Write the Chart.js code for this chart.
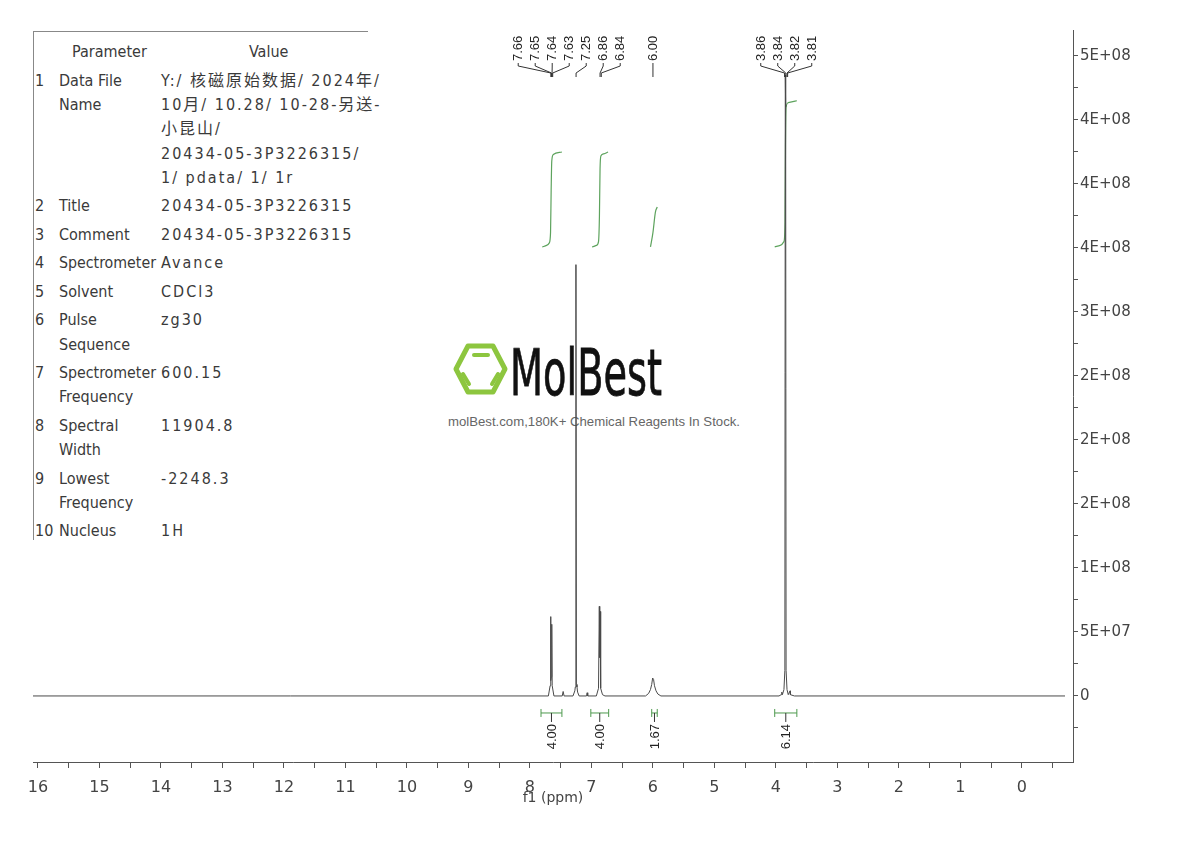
<!DOCTYPE html>
<html>
<head>
<meta charset="utf-8">
<script src="https://cdn.jsdelivr.net/npm/chart.js@4.4.1/dist/chart.umd.min.js"></script>
<style>
  body { margin: 0; background: #fff; }
  #wrap { position: relative; width: 1190px; height: 842px; overflow: hidden; }
  #chart { position: absolute; left: 0; top: 0; z-index: 2; }
  #params {
    position: absolute; left: 33px; top: 31px; width: 335px; height: 509px;
    border-left: 1px solid #888; border-top: 1px solid #888; z-index: 1;
    font-family: 'DejaVu Sans', 'Noto Sans CJK SC', sans-serif; font-stretch: condensed;
    font-size: 16px; color: #3a3a3a; line-height: 24.3px; padding-top: 4px;
    box-sizing: border-box;
  }
  .row { display: flex; padding-top: 4.2px; white-space: nowrap; }
  .num { width: 25px; padding-left: 1px; flex-shrink: 0; box-sizing: border-box; }
  .name { width: 102px; flex-shrink: 0; }
  .name span { display: inline-block; transform-origin: left center; }
  .val { letter-spacing: 2px; flex-shrink: 0; }
  .head .name { padding-left: 13px; box-sizing: border-box; }
  .head .val { padding-left: 88px; letter-spacing: 0; }
  #logo { position: absolute; left: 0; top: 0; z-index: 1; }
</style>
</head>
<body>
<div id="wrap">
  <div id="params"></div>
  <svg id="logo" width="1190" height="842">
    <polygon points="456,369 468,346 493,346 505,369 493,392 468,392" fill="none" stroke="#8dc63f" stroke-width="5" stroke-linejoin="round"/>
    <line x1="474" y1="355" x2="488" y2="355" stroke="#8dc63f" stroke-width="4" stroke-linecap="round"/>
    <line x1="463" y1="374" x2="469" y2="384" stroke="#8dc63f" stroke-width="4" stroke-linecap="round"/>
    <line x1="498" y1="374" x2="492" y2="384" stroke="#8dc63f" stroke-width="4" stroke-linecap="round"/>
    <text x="510" y="395" font-family="DejaVu Sans, sans-serif" font-size="64" fill="#111" stroke="#111" stroke-width="0.8" textLength="152" lengthAdjust="spacingAndGlyphs">MolBest</text>
    <text x="448" y="426" font-family="Liberation Sans, Arial, sans-serif" font-size="13" fill="#666" textLength="292" lengthAdjust="spacingAndGlyphs">molBest.com,180K+ Chemical Reagents In Stock.</text>
  </svg>
  <canvas id="chart" width="1190" height="842"></canvas>
</div>
<script>
// acquisition parameters table
const paramNumbers = ['1', '2', '3', '4', '5', '6', '7', '8', '9', '10'];
const paramNames = [['Data File', 'Name'], ['Title'], ['Comment'], ['Spectrometer'], ['Solvent'],
  ['Pulse', 'Sequence'], ['Spectrometer', 'Frequency'], ['Spectral', 'Width'], ['Lowest', 'Frequency'], ['Nucleus']];
const paramValues = [
  ['Y:/ 核磁原始数据/ 2024年/', '10月/ 10.28/ 10-28-另送-', '小昆山/', '20434-05-3P3226315/', '1/ pdata/ 1/ 1r'],
  ['20434-05-3P3226315'], ['20434-05-3P3226315'], ['Avance'], ['CDCl3'], ['zg30'],
  ['600.15'], ['11904.8'], ['-2248.3'], ['1H']
];

// spectrum trace (ppm, intensity)
const spectrumPpm = [16.08, 7.70, 7.672, 7.665, 7.658, 7.652, 7.645, 7.638, 7.61,
  7.475, 7.46, 7.445, 7.30, 7.27, 7.262, 7.252, 7.245, 7.235, 7.225, 7.20, 7.08, 7.07, 7.06,
  6.92, 6.885, 6.872, 6.865, 6.858, 6.85, 6.82, 6.78,
  6.12, 6.07, 6.04, 6.02, 6.005, 5.99, 5.975, 5.95, 5.92, 5.87,
  3.95, 3.915, 3.905, 3.895, 3.87, 3.855, 3.848, 3.842, 3.835, 3.82, 3.80, 3.77, 3.765, 3.70, -0.7];
const spectrumIntensity = [0, 0, 0.8e7, 6.2e7, 1.2e7, 1.5e7, 5.6e7, 0.8e7, 0,
  0, 0.35e7, 0, 0, 0.4e7, 0.7e7, 33.7e7, 0.9e7, 0.7e7, 0.3e7, 0, 0, 0.25e7, 0,
  0, 0.6e7, 7.0e7, 3.0e7, 6.6e7, 0.6e7, 0.1e7, 0,
  0, 0.2e7, 0.5e7, 0.9e7, 1.4e7, 1.3e7, 0.8e7, 0.4e7, 0.15e7, 0,
  0, 0.1e7, 0.3e7, 0.1e7, 0.5e7, 2.0e7, 48.5e7, 46e7, 2.0e7, 0.5e7, 0.1e7, 0.4e7, 0.1e7, 0, 0];

// peak picking
const peakShifts = [7.66, 7.65, 7.64, 7.63, 7.25, 6.86, 6.84, 6.00, 3.86, 3.84, 3.82, 3.81];

// integrals
const integralFrom = [7.82, 7.01, 6.02, 4.02];
const integralTo = [7.48, 6.72, 5.93, 3.66];
const integralLabels = ['4.00', '4.00', '1.67', '6.14'];
const integralCurvePpm = [
  [7.80, 7.73, 7.685, 7.665, 7.655, 7.645, 7.62, 7.48],
  [6.99, 6.92, 6.885, 6.87, 6.86, 6.845, 6.80, 6.73],
  [6.04, 6.0, 5.96, 5.93],
  [4.02, 3.93, 3.87, 3.852, 3.845, 3.835, 3.80, 3.66]
];
const integralCurveValue = [
  [3.508e8, 3.52e8, 3.54e8, 3.62e8, 3.95e8, 4.18e8, 4.23e8, 4.25e8],
  [3.508e8, 3.52e8, 3.55e8, 3.75e8, 4.12e8, 4.22e8, 4.235e8, 4.25e8],
  [3.508e8, 3.62e8, 3.78e8, 3.82e8],
  [3.508e8, 3.52e8, 3.55e8, 3.70e8, 4.30e8, 4.60e8, 4.635e8, 4.65e8]
];

// axes
const xMajorTicks = [16, 15, 14, 13, 12, 11, 10, 9, 8, 7, 6, 5, 4, 3, 2, 1, 0];
const xTickLabels = ['16', '15', '14', '13', '12', '11', '10', '9', '8', '7', '6', '5', '4', '3', '2', '1', '0'];
const xMinorTicks = [15.5, 14.5, 13.5, 12.5, 11.5, 10.5, 9.5, 8.5, 7.5, 6.5, 5.5, 4.5, 3.5, 2.5, 1.5, 0.5, -0.5];
const yMajorTicks = [0, 5e7, 1e8, 1.5e8, 2e8, 2.5e8, 3e8, 3.5e8, 4e8, 4.5e8, 5e8];
const yTickLabels = ['0', '5E+07', '1E+08', '2E+08', '2E+08', '2E+08', '3E+08', '4E+08', '4E+08', '4E+08', '5E+08'];
const yMinorTicks = [-2.5e7, 2.5e7, 7.5e7, 1.25e8, 1.75e8, 2.25e8, 2.75e8, 3.25e8, 3.75e8, 4.25e8, 4.75e8];

const integralBracketLevel = -1.33e7;
const axisFont = "'DejaVu Sans', sans-serif";

// build the parameter table
const table = document.getElementById('params');
const head = document.createElement('div');
head.className = 'row head';
head.innerHTML = '<div class="num"></div><div class="name">Parameter</div><div class="val">Value</div>';
table.appendChild(head);
paramNumbers.forEach((n, i) => {
  const row = document.createElement('div');
  row.className = 'row';
  row.innerHTML = '<div class="num">' + n + '</div><div class="name">' +
    paramNames[i].map(t => '<span>' + t + '</span>').join('<br>') +
    '</div><div class="val">' + paramValues[i].join('<br>') + '</div>';
  table.appendChild(row);
});
// squeeze the long parameter names into their column if the font runs wide
table.querySelectorAll('.name span').forEach(s => {
  const w = s.getBoundingClientRect().width;
  if (w > 97) s.style.transform = 'scaleX(' + (97 / w).toFixed(3) + ')';
});

const findLabel = (value, majors, labels) => {
  const i = majors.findIndex(m => Math.abs(m - value) < 1e-6 * Math.max(1, Math.abs(m)));
  return i >= 0 ? labels[i] : '';
};

// spread peak labels so they do not overlap (pool adjacent violators)
const spreadLabels = (pixels, gap) => {
  const order = pixels.map((p, i) => i).sort((a, b) => pixels[a] - pixels[b]);
  const blocks = [];
  order.forEach((idx, k) => {
    blocks.push({ sum: pixels[idx] - gap * k, n: 1 });
    while (blocks.length > 1) {
      const b = blocks[blocks.length - 1], a = blocks[blocks.length - 2];
      if (a.sum / a.n > b.sum / b.n) { a.sum += b.sum; a.n += b.n; blocks.pop(); } else break;
    }
  });
  const out = new Array(pixels.length);
  let k = 0;
  blocks.forEach(b => {
    const m = b.sum / b.n;
    for (let j = 0; j < b.n; j++, k++) out[order[k]] = m + gap * k;
  });
  return out;
};

const nmrAnnotations = {
  id: 'nmrAnnotations',
  afterDatasetsDraw(chart) {
    const { ctx, scales: { x, y } } = chart;
    ctx.save();

    // peak labels with leader lines
    const px = peakShifts.map(p => x.getPixelForValue(p));
    const lx = spreadLabels(px, 17);
    ctx.font = "13px 'Liberation Sans', Arial, sans-serif";
    ctx.fillStyle = '#222';
    ctx.strokeStyle = '#333';
    ctx.lineWidth = 1;
    peakShifts.forEach((p, i) => {
      ctx.beginPath();
      ctx.moveTo(lx[i], 63);
      ctx.lineTo(lx[i], 66);
      ctx.lineTo(px[i], 73);
      ctx.lineTo(px[i], 77);
      ctx.stroke();
      ctx.save();
      ctx.translate(lx[i] + 0.5, 61);
      ctx.rotate(-Math.PI / 2);
      ctx.textAlign = 'left';
      ctx.textBaseline = 'middle';
      ctx.fillText(p.toFixed(2), 0, 0);
      ctx.restore();
    });

    // integral brackets and values
    const by = y.getPixelForValue(integralBracketLevel);
    integralLabels.forEach((lab, i) => {
      const x1 = x.getPixelForValue(integralFrom[i]);
      const x2 = x.getPixelForValue(integralTo[i]);
      const cx = (x1 + x2) / 2;
      ctx.strokeStyle = '#4e9a4e';
      ctx.beginPath();
      ctx.moveTo(x1, by); ctx.lineTo(x2, by);
      ctx.moveTo(x1, by - 4); ctx.lineTo(x1, by + 4);
      ctx.moveTo(x2, by - 4); ctx.lineTo(x2, by + 4);
      ctx.stroke();
      ctx.strokeStyle = '#333';
      ctx.beginPath();
      ctx.moveTo(cx, by); ctx.lineTo(cx, by + 9);
      ctx.stroke();
      ctx.save();
      ctx.translate(cx + 0.5, by + 11);
      ctx.rotate(-Math.PI / 2);
      ctx.textAlign = 'right';
      ctx.textBaseline = 'middle';
      ctx.fillStyle = '#222';
      ctx.fillText(lab, 0, 0);
      ctx.restore();
    });
    ctx.restore();
  }
};

const datasets = [{
  label: 'spectrum',
  data: spectrumPpm.map((p, i) => ({ x: p, y: spectrumIntensity[i] })),
  borderColor: '#4a4a4a',
  borderWidth: 1,
  pointRadius: 0,
  tension: 0
}];
integralCurvePpm.forEach((ppm, k) => {
  datasets.push({
    label: 'integral ' + integralLabels[k],
    data: ppm.map((p, i) => ({ x: p, y: integralCurveValue[k][i] })),
    borderColor: '#5da35d',
    borderWidth: 1.2,
    pointRadius: 0,
    cubicInterpolationMode: 'monotone'
  });
});

new Chart(document.getElementById('chart').getContext('2d'), {
  type: 'line',
  data: { datasets: datasets },
  options: {
    responsive: false,
    animation: false,
    layout: { padding: { left: 33, top: 30, right: 0, bottom: 0 } },
    plugins: { legend: { display: false }, tooltip: { enabled: false } },
    scales: {
      x: {
        type: 'linear',
        position: 'bottom',
        reverse: true,
        min: -0.83,
        max: 16.08,
        afterBuildTicks: (scale) => {
          scale.ticks = xMajorTicks.concat(xMinorTicks).sort((a, b) => a - b).map(v => ({ value: v }));
        },
        afterFit: (scale) => { scale.height = 80; },
        grid: { drawOnChartArea: false, drawTicks: true, tickLength: 6, color: '#555' },
        border: { color: '#555', width: 1 },
        ticks: {
          autoSkip: false,
          maxRotation: 0,
          padding: 10,
          color: '#444',
          font: { family: axisFont, size: 16 },
          callback: (value) => findLabel(value, xMajorTicks, xTickLabels)
        },
        title: {
          display: true,
          text: 'f1 (ppm)',
          color: '#444',
          font: { family: axisFont, size: 14 },
          padding: { top: 0, bottom: 35 }
        }
      },
      y: {
        type: 'linear',
        position: 'right',
        min: -5.16e7,
        max: 5.203e8,
        afterBuildTicks: (scale) => {
          scale.ticks = yMajorTicks.concat(yMinorTicks).sort((a, b) => a - b).map(v => ({ value: v }));
        },
        afterFit: (scale) => { scale.width = 117; },
        grid: { drawOnChartArea: false, drawTicks: true, tickLength: 5, color: '#555' },
        border: { color: '#555', width: 1 },
        ticks: {
          autoSkip: false,
          padding: 2,
          color: '#444',
          font: { family: axisFont, size: 15 },
          callback: (value) => findLabel(value, yMajorTicks, yTickLabels)
        }
      }
    }
  },
  plugins: [nmrAnnotations]
});
</script>
</body>
</html>
